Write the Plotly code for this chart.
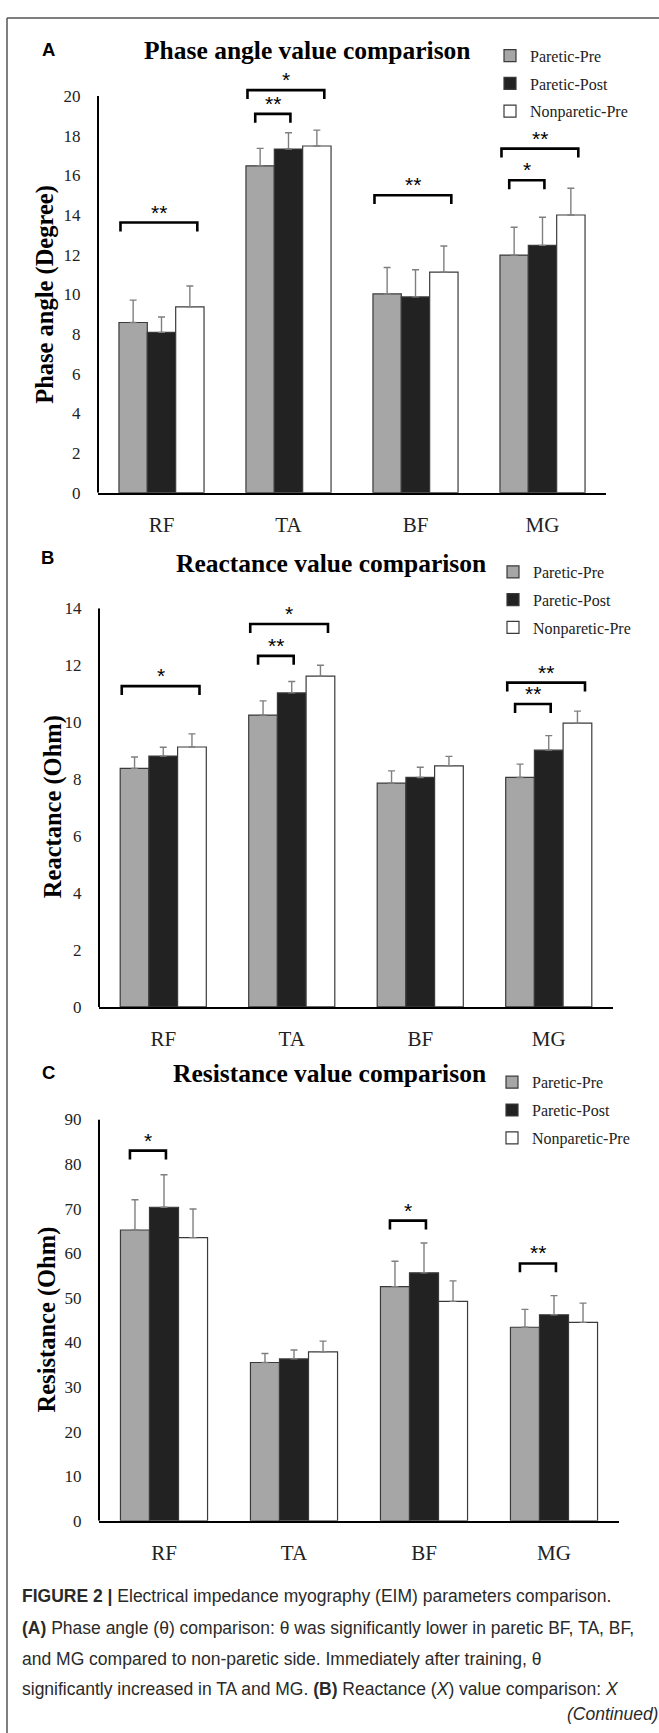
import plotly.graph_objects as go

# ---------------- data ----------------
CATEGORIES = ["RF", "TA", "BF", "MG"]
SERIES = ["Paretic-Pre", "Paretic-Post", "Nonparetic-Pre"]

# Phase angle (Degree)
phase_pre = [8.58, 16.48, 10.02, 11.98]
phase_pre_err = [1.13, 0.88, 1.33, 1.40]
phase_post = [8.08, 17.33, 9.87, 12.47]
phase_post_err = [0.78, 0.82, 1.37, 1.42]
phase_non = [9.37, 17.48, 11.12, 14.00]
phase_non_err = [1.05, 0.80, 1.32, 1.35]

# Reactance (Ohm)
react_pre = [8.38, 10.25, 7.86, 8.06]
react_pre_err = [0.40, 0.50, 0.43, 0.47]
react_post = [8.81, 11.03, 8.06, 9.02]
react_post_err = [0.31, 0.40, 0.36, 0.51]
react_non = [9.13, 11.62, 8.47, 9.97]
react_non_err = [0.46, 0.38, 0.33, 0.42]

# Resistance (Ohm)
resist_pre = [65.2, 35.5, 52.5, 43.4]
resist_pre_err = [6.8, 2.0, 5.7, 4.0]
resist_post = [70.3, 36.3, 55.6, 46.2]
resist_post_err = [7.3, 2.0, 6.7, 4.3]
resist_non = [63.5, 37.9, 49.2, 44.5]
resist_non_err = [6.4, 2.4, 4.6, 4.3]

# significance brackets: (category index, comparison, bracket level, label)
phase_sig = [(0, "pre-non", 13.62, "**"), (1, "pre-non", 20.3, "*"), (1, "pre-post", 19.1, "**"),
             (2, "pre-non", 15.0, "**"), (3, "pre-non", 17.35, "**"), (3, "pre-post", 15.75, "*")]
react_sig = [(0, "pre-non", 11.27, "*"), (1, "pre-non", 13.45, "*"), (1, "pre-post", 12.33, "**"),
             (3, "pre-non", 11.39, "**"), (3, "pre-post", 10.64, "**")]
resist_sig = [(0, "pre-post", 83.0, "*"), (2, "pre-post", 67.3, "*"), (3, "pre-post", 57.7, "**")]

PANEL_TITLES = ["Phase angle value comparison", "Reactance value comparison", "Resistance value comparison"]
Y_TITLES = ["Phase angle (Degree)", "Reactance (Ohm)", "Resistance (Ohm)"]
PANEL_LETTERS = ["A", "B", "C"]
Y_TICKS = [list(range(0, 21, 2)), list(range(0, 15, 2)), list(range(0, 91, 10))]

CAPTION = [
    "<b>FIGURE 2 |</b> Electrical impedance myography (EIM) parameters comparison.",
    "<b>(A)</b> Phase angle (θ) comparison: θ was significantly lower in paretic BF, TA, BF,",
    "and MG compared to non-paretic side. Immediately after training, θ",
    "significantly increased in TA and MG. <b>(B)</b> Reactance (<i>X</i>) value comparison: <i>X</i>",
]
CONTINUED = "<i>(Continued)</i>"

# ---------------- layout / style ----------------
W, H = 659, 1733
def fx(p):
    return p / W
def fy(p):
    return 1 - p / H

SERIF = "Liberation Serif, Times New Roman, serif"
SANS = "Liberation Sans, Arial, sans-serif"
FILLS = ["#a6a6a6", "#222222", "#ffffff"]
OUTLINE = "#3a3a3a"
SPANS = {"pre-non": (-0.323, 0.282), "pre-post": (-0.262, 0.015)}

panels = [
    dict(x=(98, 606), y0=489.0, ytop=88.0, tick_top=20, range_top=21,
         title=(307, 42), ytitle=(45, 289), letter=(48, 41), legend=(490, 30)),
    dict(x=(99, 613), y0=1009.0, ytop=606.0, tick_top=14, range_top=14,
         title=(331, 561), ytitle=(53, 806), letter=(47, 555), legend=(493, 552)),
    dict(x=(99, 619), y0=1528.6, ytop=1122.7, tick_top=90, range_top=90,
         title=(329, 1076), ytitle=(47, 1325), letter=(48, 1075), legend=(492, 1068)),
]

series_data = [
    [(phase_pre, phase_pre_err), (phase_post, phase_post_err), (phase_non, phase_non_err)],
    [(react_pre, react_pre_err), (react_post, react_post_err), (react_non, react_non_err)],
    [(resist_pre, resist_pre_err), (resist_post, resist_post_err), (resist_non, resist_non_err)],
]
sig_data = [phase_sig, react_sig, resist_sig]

fig = go.Figure()
shapes = []
annotations = []
layout_upd = {}

for i, p in enumerate(panels):
    sfx = "" if i == 0 else str(i + 1)
    px_per_unit = (p["y0"] - p["ytop"]) / p["tick_top"]
    top_px = p["y0"] - p["range_top"] * px_per_unit
    for s, (vals, errs) in enumerate(series_data[i]):
        fig.add_trace(go.Bar(
            x=CATEGORIES, y=vals, name=SERIES[s],
            xaxis="x" + sfx, yaxis="y" + sfx, legend="legend" + sfx,
            legendgroup=f"g{i}{s}",
            marker=dict(color=FILLS[s], line=dict(color=OUTLINE, width=1.2)),
            error_y=dict(type="data", array=errs, arrayminus=[0] * len(errs), symmetric=False,
                         color="#7f7f7f", thickness=1.4, width=3.5),
        ))
    layout_upd["xaxis" + sfx] = dict(
        domain=[fx(p["x"][0]), fx(p["x"][1])], anchor="y" + sfx, type="category",
        showline=True, linecolor="black", linewidth=2, showgrid=False, zeroline=False,
        ticks="outside", ticklen=12, tickcolor="rgba(0,0,0,0)",
        tickfont=dict(family=SERIF, size=21, color="#222"),
    )
    layout_upd["yaxis" + sfx] = dict(
        domain=[fy(p["y0"]), fy(top_px)], anchor="x" + sfx, range=[0, p["range_top"]],
        showline=False, showgrid=False, zeroline=False,
        tickvals=Y_TICKS[i], ticks="outside", ticklen=13, tickcolor="rgba(0,0,0,0)",
        tickfont=dict(family=SERIF, size=17, color="#222"),
    )
    layout_upd["legend" + sfx] = dict(
        x=fx(p["legend"][0]), y=fy(p["legend"][1]), xanchor="left", yanchor="top",
        font=dict(family=SERIF, size=16, color="#222"), bgcolor="rgba(0,0,0,0)",
        borderwidth=0, tracegroupgap=4, traceorder="grouped",
    )
    # y axis line
    shapes.append(dict(type="line", xref="paper", yref="y" + sfx,
                       x0=fx(p["x"][0]), x1=fx(p["x"][0]), y0=0, y1=p["tick_top"],
                       line=dict(color="black", width=2)))
    # significance brackets
    drop = 9.0 / px_per_unit
    for cat, comp, level, label in sig_data[i]:
        a, b = SPANS[comp]
        x0, x1 = cat + a, cat + b
        shapes.append(dict(type="path", xref="x" + sfx, yref="y" + sfx,
                           path=f"M {x0},{level - drop} L {x0},{level} L {x1},{level} L {x1},{level - drop}",
                           line=dict(color="black", width=2.6)))
        annotations.append(dict(x=(x0 + x1) / 2, y=level, xref="x" + sfx, yref="y" + sfx,
                                text=label, showarrow=False, xanchor="center", yanchor="middle",
                                yshift=10.5, font=dict(family=SANS, size=21, color="black")))
    # titles
    annotations.append(dict(x=fx(p["title"][0]), y=fy(p["title"][1]), xref="paper", yref="paper",
                            text=PANEL_TITLES[i], showarrow=False, xanchor="center", yanchor="middle",
                            font=dict(family=SERIF, size=25.5, color="black", weight="bold")))
    annotations.append(dict(x=fx(p["ytitle"][0]), y=fy(p["ytitle"][1]), xref="paper", yref="paper",
                            text=Y_TITLES[i], showarrow=False, textangle=-90,
                            xanchor="center", yanchor="middle",
                            font=dict(family=SERIF, size=24.5, color="black", weight="bold")))
    annotations.append(dict(x=fx(p["letter"][0]), y=fy(p["letter"][1]), xref="paper", yref="paper",
                            text=PANEL_LETTERS[i], showarrow=False, xanchor="center", yanchor="middle",
                            font=dict(family=SANS, size=18.5, color="black", weight="bold")))

# caption
cap_y = [1605, 1637, 1668, 1699]
for line, yy in zip(CAPTION, cap_y):
    annotations.append(dict(x=fx(20), y=fy(yy), xref="paper", yref="paper", text=line,
                            showarrow=False, xanchor="left", yanchor="middle",
                            font=dict(family=SANS, size=17.5, color="#2a2a2a")))
annotations.append(dict(x=fx(660), y=fy(1724), xref="paper", yref="paper", text=CONTINUED,
                        showarrow=False, xanchor="right", yanchor="middle",
                        font=dict(family=SANS, size=17.5, color="#2a2a2a")))

# outer frame (left and top edges visible)
shapes.append(dict(type="line", xref="paper", yref="paper", x0=fx(7), x1=fx(700), y0=fy(9), y1=fy(9),
                   line=dict(color="#555", width=1.5)))
shapes.append(dict(type="line", xref="paper", yref="paper", x0=fx(7), x1=fx(7), y0=fy(9), y1=fy(1800),
                   line=dict(color="#555", width=1.5)))

fig.update_layout(
    width=W, height=H, autosize=False,
    margin=dict(l=0, r=0, t=0, b=0),
    paper_bgcolor="white", plot_bgcolor="white",
    barmode="group", bargap=0.33, bargroupgap=0,
    showlegend=True,
    shapes=shapes, annotations=annotations,
    **layout_upd,
)

fig.write_html(
    "out.html",
    config={"displayModeBar": False},
    post_script="document.body.style.margin='0';document.body.style.overflow='hidden';",
)
